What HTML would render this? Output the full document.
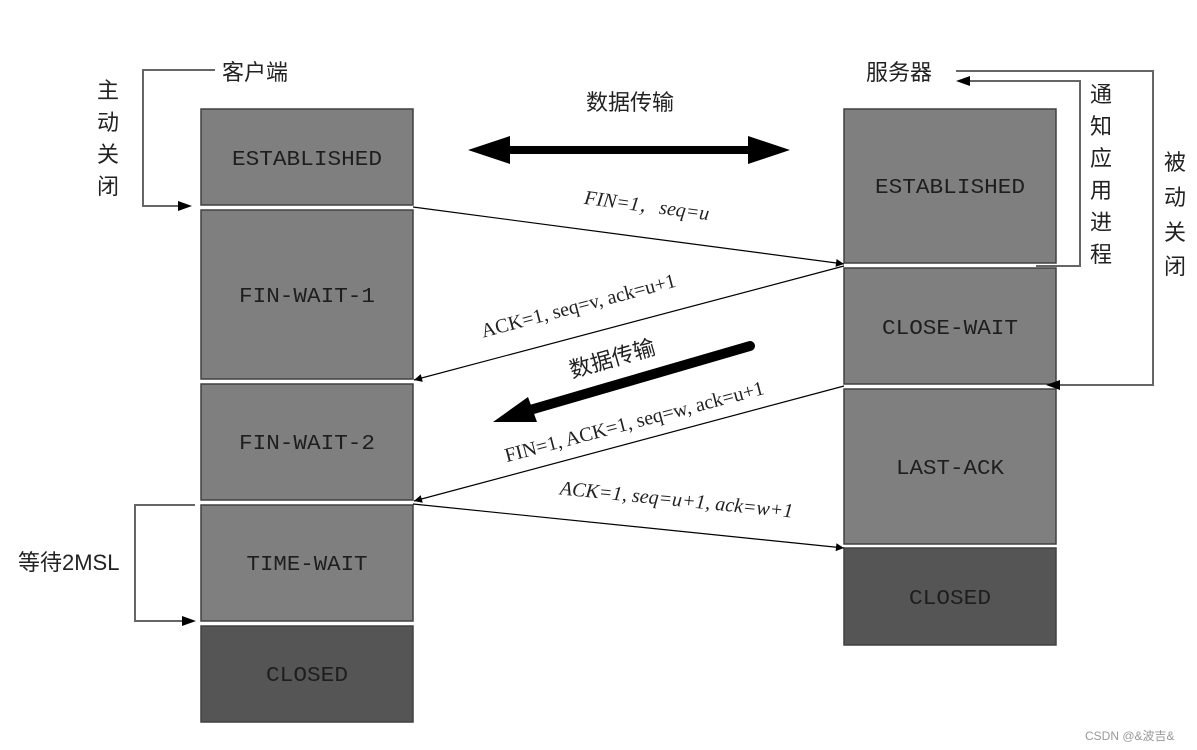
<!DOCTYPE html>
<html><head><meta charset="utf-8"><style>
html,body{margin:0;padding:0;background:#fff;}
svg{display:block;}
.b{fill:#7f7f7f;stroke:#404040;stroke-width:1.5;}
.d{fill:#555;stroke:#404040;stroke-width:1.5;}
.bt{font-family:"Liberation Mono",monospace;font-size:21px;fill:#1e1e1e;text-anchor:middle;}
.cn{font-family:"Liberation Sans","Noto Sans CJK SC",sans-serif;font-size:22px;fill:#222;}
.lb{font-family:"Liberation Serif","Noto Serif CJK SC",serif;font-size:20px;fill:#222;text-anchor:middle;}
.ln{stroke:#666;stroke-width:2;fill:none;}
.ar{stroke:#000;stroke-width:1.2;fill:none;}
</style></head><body>
<svg width="1197" height="750" viewBox="0 0 1197 750" xmlns="http://www.w3.org/2000/svg">
<defs>
<marker id="m" viewBox="0 0 10 10" refX="10" refY="5" markerWidth="12" markerHeight="8" markerUnits="userSpaceOnUse" orient="auto"><path d="M0,0L10,5L0,10z" fill="#000"/></marker>
<marker id="m2" viewBox="0 0 10 10" refX="10" refY="5" markerWidth="16" markerHeight="12" markerUnits="userSpaceOnUse" orient="auto"><path d="M0,0L10,5L0,10z" fill="#000"/></marker>
</defs>
<!-- left boxes -->
<rect class="b" x="201" y="109" width="212" height="96"/>
<rect class="b" x="201" y="210" width="212" height="169"/>
<rect class="b" x="201" y="384" width="212" height="116"/>
<rect class="b" x="201" y="505" width="212" height="116"/>
<rect class="d" x="201" y="626" width="212" height="96"/>
<text class="bt" x="307" y="165" textLength="150" lengthAdjust="spacingAndGlyphs">ESTABLISHED</text>
<text class="bt" x="307" y="302" textLength="136" lengthAdjust="spacingAndGlyphs">FIN-WAIT-1</text>
<text class="bt" x="307" y="449" textLength="136" lengthAdjust="spacingAndGlyphs">FIN-WAIT-2</text>
<text class="bt" x="307" y="570" textLength="121" lengthAdjust="spacingAndGlyphs">TIME-WAIT</text>
<text class="bt" x="307" y="681" textLength="82" lengthAdjust="spacingAndGlyphs">CLOSED</text>
<!-- right boxes -->
<rect class="b" x="844" y="109" width="212" height="154"/>
<rect class="b" x="844" y="268" width="212" height="116"/>
<rect class="b" x="844" y="389" width="212" height="155"/>
<rect class="d" x="844" y="548" width="212" height="97"/>
<text class="bt" x="950" y="193" textLength="150" lengthAdjust="spacingAndGlyphs">ESTABLISHED</text>
<text class="bt" x="950" y="334" textLength="136" lengthAdjust="spacingAndGlyphs">CLOSE-WAIT</text>
<text class="bt" x="950" y="474" textLength="108" lengthAdjust="spacingAndGlyphs">LAST-ACK</text>
<text class="bt" x="950" y="604" textLength="82" lengthAdjust="spacingAndGlyphs">CLOSED</text>
<!-- titles -->
<text class="cn" x="222" y="80">客户端</text>
<text class="cn" x="866" y="80">服务器</text>
<text class="cn" x="97" y="98">主</text><text class="cn" x="97" y="130">动</text><text class="cn" x="97" y="162">关</text><text class="cn" x="97" y="194">闭</text>
<text class="cn" x="1090" y="102">通</text><text class="cn" x="1090" y="134">知</text><text class="cn" x="1090" y="166">应</text><text class="cn" x="1090" y="198">用</text><text class="cn" x="1090" y="230">进</text><text class="cn" x="1090" y="262">程</text>
<text class="cn" x="1164" y="170">被</text><text class="cn" x="1164" y="205">动</text><text class="cn" x="1164" y="240">关</text><text class="cn" x="1164" y="274">闭</text>
<text class="cn" x="18" y="570">等待2MSL</text>
<text class="cn" x="586" y="110">数据传输</text>
<!-- brackets -->
<polyline class="ln" points="215,70 143,70 143,206 178,206"/>
<path d="M178,201L192,206L178,211z" fill="#000"/>
<polyline class="ln" points="195,505 135,505 135,621 182,621"/>
<path d="M182,616L196,621L182,626z" fill="#000"/>
<polyline class="ln" points="956,71 1153,71 1153,385 1058,385"/>
<path d="M1060,380L1046,385L1060,390z" fill="#000"/>
<polyline class="ln" points="968,81 1080,81 1080,266 1036,266"/>
<path d="M970,76L956,81L970,86z" fill="#000"/>
<!-- double arrow -->
<rect x="505" y="146" width="250" height="8" fill="#000"/>
<path d="M468,150L510,136L510,164z" fill="#000"/>
<path d="M790,150L748,136L748,164z" fill="#000"/>
<!-- message arrows -->
<line class="ar" x1="413" y1="207" x2="844" y2="264" marker-end="url(#m)"/>
<line class="ar" x1="844" y1="266" x2="414" y2="380" marker-end="url(#m)"/>
<line class="ar" x1="844" y1="386" x2="414" y2="501" marker-end="url(#m)"/>
<line class="ar" x1="413" y1="504" x2="844" y2="548" marker-end="url(#m)"/>
<text class="lb" transform="translate(646,212) rotate(7.5)" font-style="italic">FIN=1，seq=u</text>
<text class="lb" transform="translate(580,312) rotate(-14.8)">ACK=1, seq=v, ack=u+1</text>
<text class="lb" transform="translate(636,428) rotate(-14.8)">FIN=1, ACK=1, seq=w, ack=u+1</text>
<text class="lb" transform="translate(676,506) rotate(5.7)" font-style="italic">ACK=1, seq=u+1, ack=w+1</text>
<!-- thick data arrow -->
<line x1="750" y1="346" x2="530" y2="410" stroke="#000" stroke-width="10" stroke-linecap="round"/>
<path d="M493,422L528,397L537,422z" fill="#000"/>
<text class="cn" transform="translate(572,378) rotate(-16)">数据传输</text>
<text x="1085" y="740" font-family="Liberation Sans,'Noto Sans CJK SC',sans-serif" font-size="12" fill="#999">CSDN @&amp;波吉&amp;</text>
</svg>
</body></html>
